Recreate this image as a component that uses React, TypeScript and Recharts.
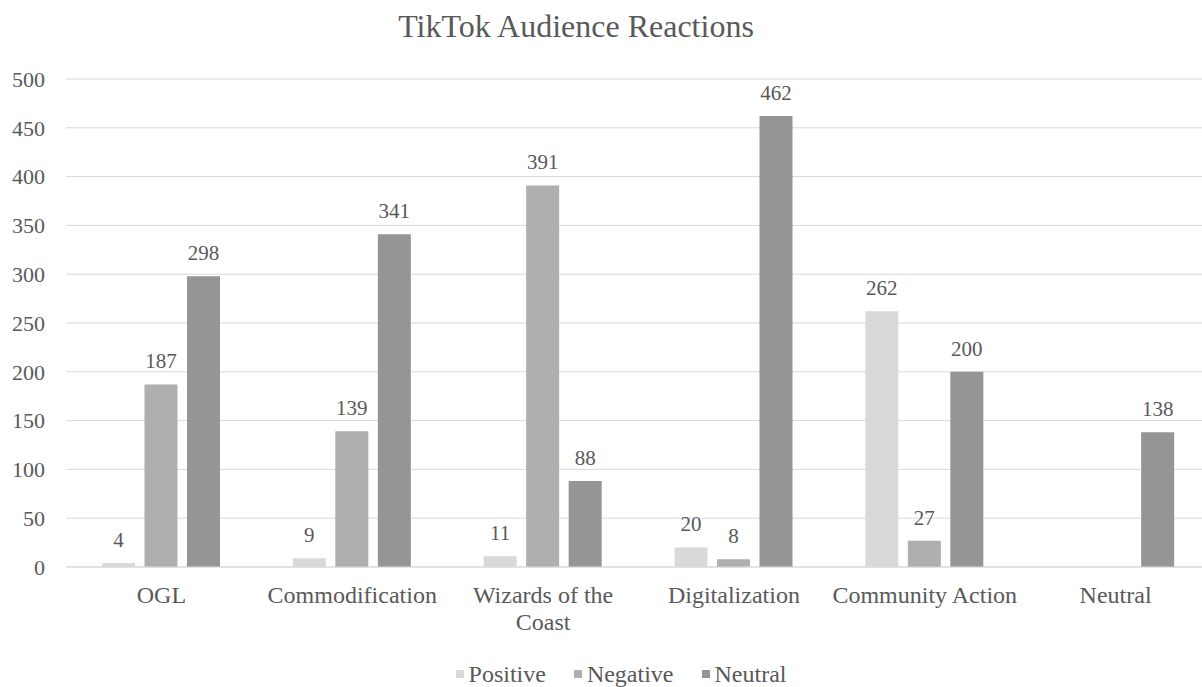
import { BarChart, Bar, XAxis, YAxis, CartesianGrid, LabelList } from "recharts";

const categories = ["OGL", "Commodification", "Wizards of the Coast", "Digitalization", "Community Action", "Neutral"];
const positive = [4, 9, 11, 20, 262, null];
const negative = [187, 139, 391, 8, 27, null];
const neutral = [298, 341, 88, 462, 200, 138];
const yTicks = [0, 50, 100, 150, 200, 250, 300, 350, 400, 450, 500];

const series = [
  { key: "positive", name: "Positive", color: "#d9d9d9" },
  { key: "negative", name: "Negative", color: "#afafaf" },
  { key: "neutral", name: "Neutral", color: "#959595" },
];

const data = categories.map((name, i) => ({
  name,
  positive: positive[i],
  negative: negative[i],
  neutral: neutral[i],
}));

const FONT = "Liberation Serif, Times New Roman, serif";
const TEXT = "#595959";
const CAT_SIZE = 24;

// greedy word wrap, measured with a canvas so it follows the real font
function wrap(label: string, maxWidth: number) {
  const ctx = document.createElement("canvas").getContext("2d");
  if (!ctx) return [label];
  ctx.font = `${CAT_SIZE}px "Liberation Serif"`;
  const lines: string[] = [];
  let line = "";
  for (const word of label.split(" ")) {
    const next = line ? `${line} ${word}` : word;
    if (line && ctx.measureText(next).width > maxWidth) {
      lines.push(line);
      line = word;
    } else {
      line = next;
    }
  }
  lines.push(line);
  return lines;
}

function CategoryTick(props: any) {
  const { x, y, payload } = props;
  const lines = wrap(String(payload.value), 189);
  return (
    <text x={x} y={y + 28} textAnchor="middle" fill={TEXT} fontSize={CAT_SIZE} fontFamily={FONT}>
      {lines.map((l, i) => (
        <tspan key={i} x={x} dy={i === 0 ? 0 : 27}>
          {l}
        </tspan>
      ))}
    </text>
  );
}

export default function App() {
  return (
    <div style={{ position: "absolute", left: 0, top: 0, width: 1202, height: 687, overflow: "hidden", background: "#fff", fontFamily: FONT }}>
      <div style={{ position: "absolute", left: 376, top: 10, width: 400, textAlign: "center", fontSize: 32, lineHeight: 1, color: TEXT }}>
        TikTok Audience Reactions
      </div>
      <BarChart
        width={1211}
        height={687}
        data={data}
        margin={{ top: 79, right: 0, left: 0, bottom: 50 }}
        barSize={33}
        barGap={9.5}
      >
        <CartesianGrid vertical={false} stroke="#d9d9d9" />
        <XAxis
          dataKey="name"
          tick={<CategoryTick />}
          tickLine={false}
          axisLine={{ stroke: "#d9d9d9" }}
          interval={0}
          height={70}
        />
        <YAxis
          domain={[0, 500]}
          ticks={yTicks}
          tickLine={false}
          axisLine={false}
          tickMargin={15}
          width={66}
          tick={{ fill: TEXT, fontSize: 22, fontFamily: FONT }}
        />
        {series.map((s) => (
          <Bar key={s.key} dataKey={s.key} name={s.name} fill={s.color} isAnimationActive={false}>
            <LabelList dataKey={s.key} position="top" offset={16} fill={TEXT} fontSize={21} fontFamily={FONT} />
          </Bar>
        ))}
      </BarChart>
      <div style={{ position: "absolute", left: 0, width: 1242, top: 662, display: "flex", justifyContent: "center", fontSize: 24, lineHeight: 1, color: TEXT }}>
        {series.map((s) => (
          <div key={s.key} style={{ display: "flex", alignItems: "center", margin: "0 14px" }}>
            <span style={{ display: "inline-block", width: 8, height: 8, background: s.color, marginRight: 5 }} />
            <span>{s.name}</span>
          </div>
        ))}
      </div>
    </div>
  );
}
